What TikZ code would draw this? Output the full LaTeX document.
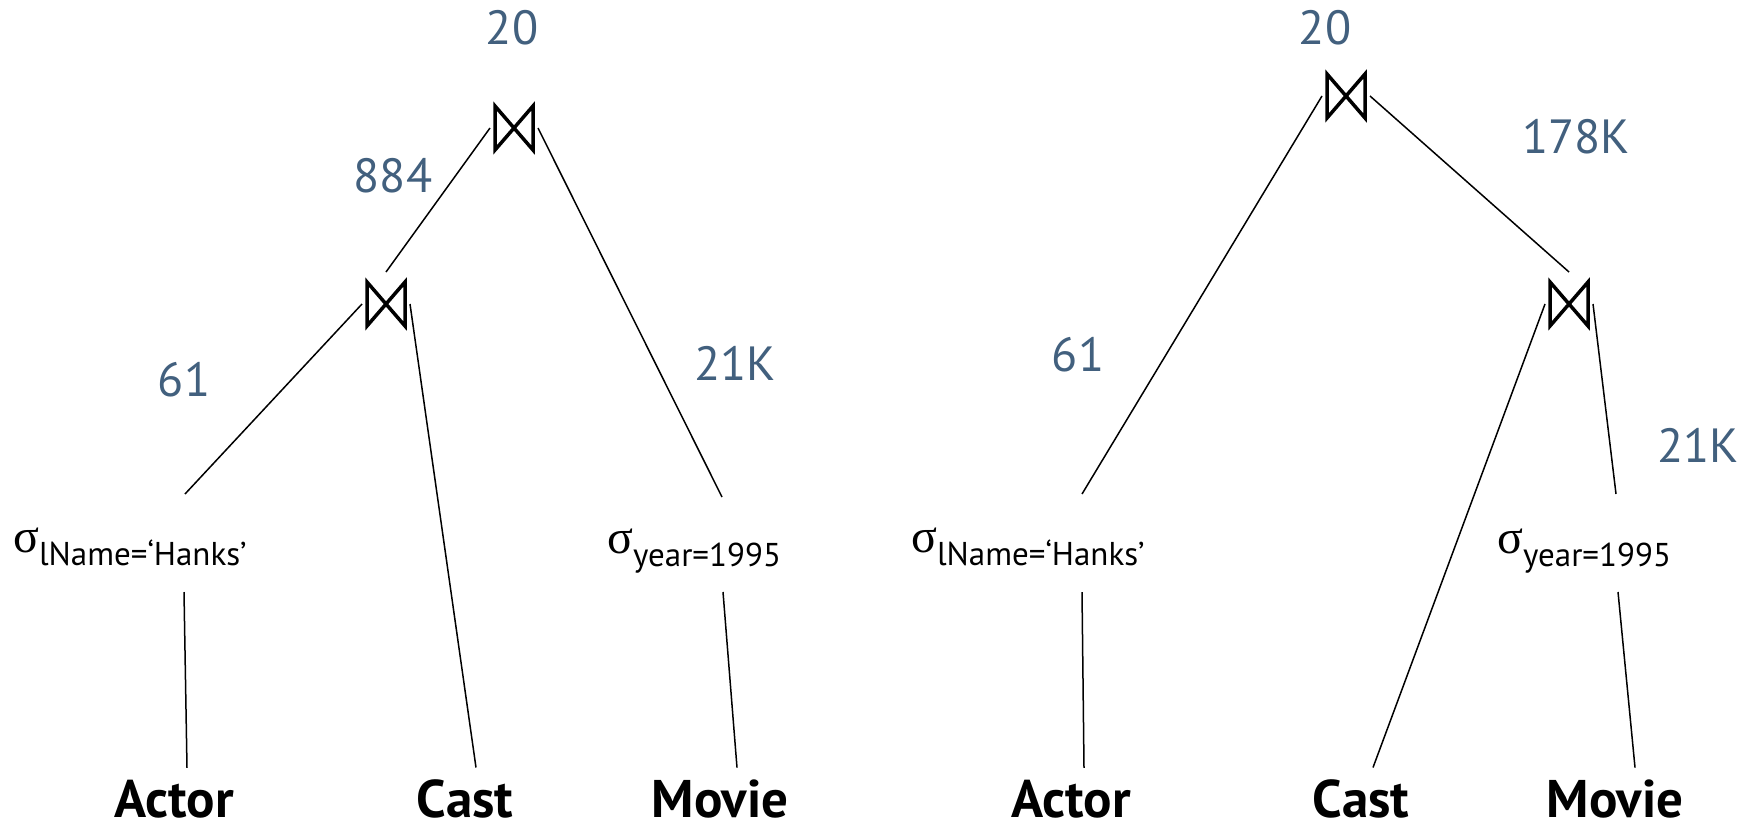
\documentclass[tikz,border=0pt]{standalone}
\usepackage{fontspec}
\setmainfont{PT Sans}
\newfontfamily\greekfont{Liberation Serif}
\usetikzlibrary{positioning}
\definecolor{cardblue}{HTML}{42607E}

\tikzset{
  card/.style={text=cardblue, font=\fontsize{48}{56}\selectfont, inner sep=0pt},
  relname/.style={font=\bfseries\fontsize{53}{60}\selectfont, inner sep=0pt},
  selnode/.style={anchor=base west, inner sep=0pt, font=\fontsize{33}{40}\selectfont},
  joinbox/.style={minimum width=42pt, minimum height=48pt, inner sep=0pt, outer xsep=3pt, outer ysep=8pt},
  edge/.style={line width=1.5pt},
  bowline/.style={line width=3.5pt},
}
\newcommand{\sel}[1]{{\greekfont\fontsize{48}{56}\selectfont σ}\raisebox{-13pt}{#1}}
\newcommand{\joinmark}[1]{\draw[bowline] (#1.center) ++(-19,-22) -- ++(38,44) -- ++(0,-44) -- ++(-38,44) -- cycle;}

\begin{document}
\begin{tikzpicture}[x=1pt,y=-1pt]
\useasboundingbox (0,0) rectangle (1752,833);

% left plan
\node[joinbox] (jTL) at (514,128) {};
\node[joinbox] (jBL) at (386,304) {};
\joinmark{jTL}
\joinmark{jBL}
\node[card] (cTL) at (512,28) {20};
\node[card] (cBL) at (393,176) {884};
\node[card] (cHL) at (184,380) {61};
\node[card] (cYL) at (735,363) {21K};
\node[selnode] (sHL) at (13,552) {\sel{lName=‘Hanks’}};
\node[selnode] (sYL) at (607,553) {\sel{year=1995}};
\coordinate (sHLup) at (185,494);
\coordinate (sHLdn) at (184,592);
\coordinate (sYLup) at (722,497);
\coordinate (sYLdn) at (723,592);
\node[relname] (actL) at (174,799) {Actor};
\node[relname] (casL) at (465,799) {Cast};
\node[relname] (movL) at (720,799) {Movie};
\draw[edge] (jTL.west) -- (jBL.north);
\draw[edge] (jTL.east) -- (sYLup);
\draw[edge] (jBL.west) -- (sHLup);
\draw[edge] (jBL.east) -- ([shift={(11,-12)}]casL.north);
\draw[edge] (sHLdn) -- ([shift={(13,-12)}]actL.north);
\draw[edge] (sYLdn) -- ([shift={(17,-12)}]movL.north);

% right plan
\node[joinbox] (jTR) at (1346,96) {};
\node[joinbox] (jBR) at (1569,304) {};
\joinmark{jTR}
\joinmark{jBR}
\node[card] (cTR) at (1325,28) {20};
\node[card] (cBR) at (1576,137) {178K};
\node[card] (cHR) at (1078,355) {61};
\node[card] (cYR) at (1698,445) {21K};
\node[selnode] (sHR) at (911,552) {\sel{lName=‘Hanks’}};
\node[selnode] (sYR) at (1497,553) {\sel{year=1995}};
\coordinate (sHRup) at (1082,494);
\coordinate (sHRdn) at (1082,592);
\coordinate (sYRup) at (1616,494);
\coordinate (sYRdn) at (1618,592);
\node[relname] (actR) at (1071,799) {Actor};
\node[relname] (casR) at (1361,799) {Cast};
\node[relname] (movR) at (1615,799) {Movie};
\draw[edge] (jTR.west) -- (sHRup);
\draw[edge] (jTR.east) -- (jBR.north);
\draw[edge] (jBR.west) -- ([shift={(12,-12)}]casR.north);
\draw[edge] (jBR.east) -- (sYRup);
\draw[edge] (sHRdn) -- ([shift={(13,-12)}]actR.north);
\draw[edge] (sYRdn) -- ([shift={(20,-12)}]movR.north);
\end{tikzpicture}
\end{document}
